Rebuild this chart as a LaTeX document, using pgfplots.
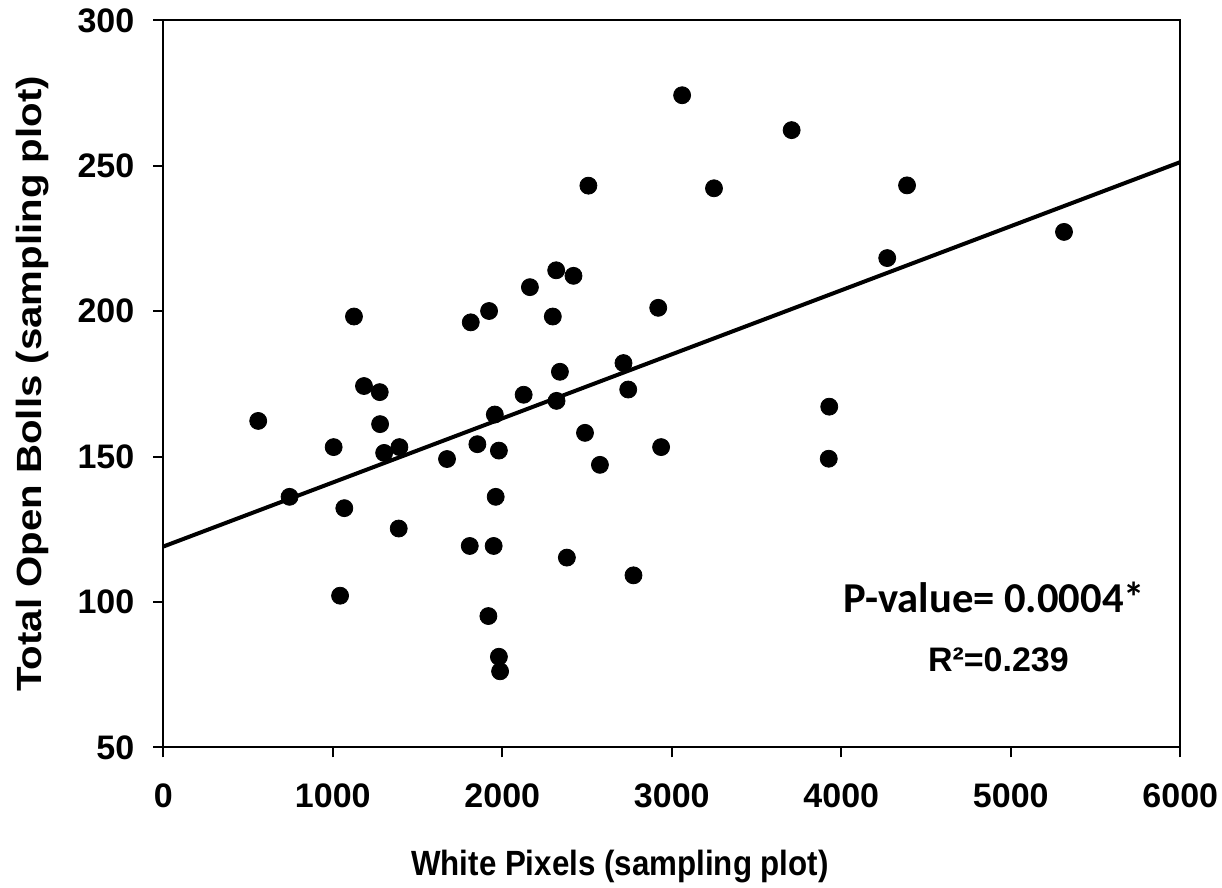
\documentclass[border=0pt]{standalone}
\usepackage{fontspec}
\setmainfont{Liberation Sans}
\newfontfamily\calibri{Carlito}
\usepackage{graphicx}
\usepackage{pgfplots}
\pgfplotsset{compat=1.18}
\begin{document}
\begin{tikzpicture}
\begin{axis}[
  scale only axis, width=508.5pt, height=363.5pt,
  xmin=0, xmax=6000, ymin=50, ymax=300,
  xtick={0,1000,...,6000}, ytick={50,100,...,300},
  tick pos=left, tick align=outside, major tick length=5pt,
  axis line style={line width=1pt},
  every tick/.style={black, line width=1pt},
  /pgf/number format/assume math mode=true,
  /pgf/number format/1000 sep={},
  tick label style={font=\fontsize{17}{20}\selectfont\bfseries},
  xticklabel style={yshift=-9.5pt},
  yticklabel style={xshift=-6pt},
  xlabel={\scalebox{1}[1.12]{White Pixels (sampling plot)}},
  ylabel={\scalebox{1}[0.87]{Total Open Bolls (sampling plot)}},
  xlabel style={font=\fontsize{15.65}{19}\selectfont\bfseries,
    at={(axis description cs:0.449,-0.1767)}, anchor=base},
  ylabel style={font=\fontsize{20.1}{24}\selectfont\bfseries,
    at={(axis description cs:-0.1193,0.5)}, anchor=base},
  clip=false,
]
\addplot[black, line width=2pt] coordinates {(0,119.1) (6000,251.3)};
\addplot[only marks, mark=*, mark size=4.25pt, black] coordinates {
(560,162.3) (745,136.2) (1005,153.3) (1068,132.3) (1043,102.2)
(1125,198.2) (1184,174.3) (1277,172.2) (1279,161.2) (1303,151.3)
(1393,153.3) (1389,125.3) (1674,149.2) (1808,119.3) (1814,196.2)
(1853,154.3) (1922,200.1) (1918,95.2) (1949,119.3) (1956,164.5)
(1961,136.2) (1980,152.1) (1980,81.2) (1987,76.2) (2126,171.3)
(2163,208.3) (2298,198.2) (2318,214.1) (2320,169.2) (2340,179.2)
(2381,115.3) (2420,212.2) (2488,158.2) (2508,243.2) (2576,147.2)
(2715,182.2) (2743,173.1) (2774,109.2) (2920,201.2) (2937,153.3)
(3061,274.3) (3249,242.3) (3707,262.3) (3929,167.2) (3926,149.3)
(4271,218.3) (4388,243.3) (5314,227.3)
};
\node[font=\fontsize{21.3}{25}\selectfont\calibri\bfseries, anchor=base] at (axis cs:4903,96.4) {P-value= 0.0004*};
\node[font=\fontsize{17}{20}\selectfont\bfseries, anchor=base] at (axis cs:4927,76.1) {R²=0.239};
\end{axis}
\pgfresetboundingbox
\path[use as bounding box] (-81.65pt,-70.25pt) rectangle (529.35pt,373.75pt);
\end{tikzpicture}
\end{document}
